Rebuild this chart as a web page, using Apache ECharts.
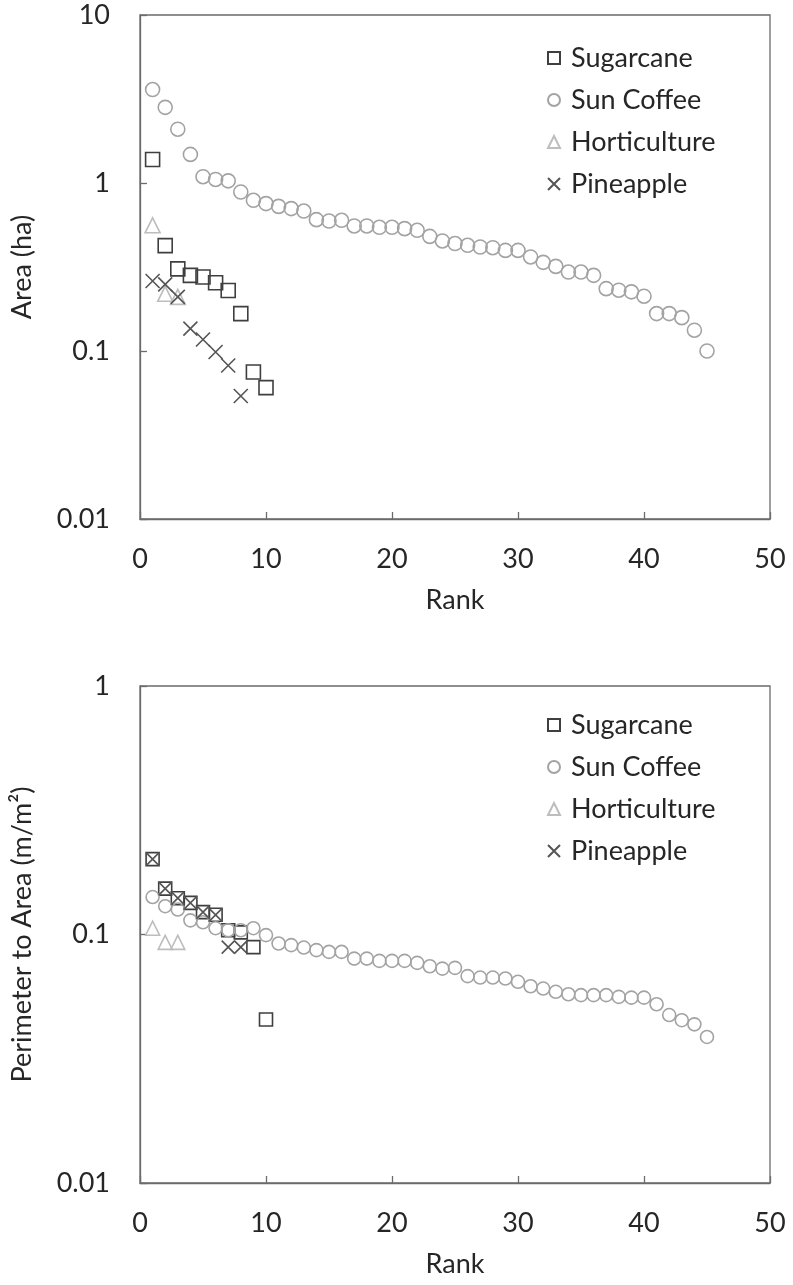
<!DOCTYPE html>
<html>
<head>
<meta charset="utf-8">
<script src="https://cdn.jsdelivr.net/npm/echarts@6/dist/echarts.min.js"></script>
<style>
  html, body { margin: 0; padding: 0; background: #ffffff; }
  #chart { width: 793px; height: 1285px; }
</style>
</head>
<body>
<div id="chart"></div>
<script>
// ---- Data ----
const seriesNames = ['Sugarcane', 'Sun Coffee', 'Horticulture', 'Pineapple'];
const xTickValues = [0, 10, 20, 30, 40, 50];

// Top panel: Area (ha) by rank
const areaSugarcane = [1.38, 0.424, 0.308, 0.282, 0.276, 0.255, 0.229, 0.167, 0.075, 0.0605];
const areaSunCoffee = [3.60, 2.82, 2.09, 1.48, 1.09, 1.05, 1.03, 0.884, 0.789, 0.754,
  0.726, 0.704, 0.681, 0.605, 0.594, 0.60, 0.555, 0.555, 0.545, 0.545,
  0.535, 0.523, 0.481, 0.452, 0.436, 0.426, 0.416, 0.412, 0.397, 0.397,
  0.363, 0.337, 0.319, 0.295, 0.295, 0.282, 0.235, 0.230, 0.225, 0.212,
  0.167, 0.167, 0.158, 0.133, 0.100];
const areaHorticulture = [0.56, 0.219, 0.21];
const areaPineapple = [0.261, 0.249, 0.21, 0.136, 0.117, 0.0986, 0.082, 0.054];

// Bottom panel: Perimeter to Area (m/m2) by rank
const paSugarcane = [0.201, 0.153, 0.140, 0.134, 0.123, 0.120, 0.104, 0.102, 0.089, 0.0455];
const paSunCoffee = [0.1415, 0.130, 0.126, 0.114, 0.112, 0.106, 0.104, 0.104, 0.106, 0.0994,
  0.092, 0.0906, 0.0886, 0.0865, 0.0851, 0.0851, 0.080, 0.080, 0.0783, 0.0783,
  0.0783, 0.0769, 0.0745, 0.0729, 0.0734, 0.068, 0.0671, 0.0671, 0.0665, 0.0645,
  0.0619, 0.0606, 0.0588, 0.0575, 0.057, 0.057, 0.057, 0.0561, 0.0557, 0.0557,
  0.0524, 0.0474, 0.0452, 0.0435, 0.0387];
const paHorticulture = [0.106, 0.093, 0.093];
const paPineapple = [0.201, 0.153, 0.140, 0.134, 0.123, 0.120, 0.089, 0.089];

// ---- Styling ----
const FONT = 'Lato';
const TEXT = '#262626';
const AXIS = '#6b6b6b';
const styles = {
  'Sugarcane':    { symbol: 'rect', color: '#3f3f3f' },
  'Sun Coffee':   { symbol: 'circle', color: '#a3a3a3' },
  'Horticulture': { symbol: 'triangle', color: '#bdbdbd' },
  'Pineapple':    { symbol: 'path://M0,0L10,10M10,0L0,10', color: '#555555' }
};

function toPoints(arr) { return arr.map((v, i) => [i + 1, v]); }

function makeSeries(name, arr, gridIdx, size) {
  const s = styles[name];
  return {
    name: name,
    type: 'scatter',
    xAxisIndex: gridIdx,
    yAxisIndex: gridIdx,
    symbol: s.symbol,
    symbolSize: size,
    data: toPoints(arr),
    itemStyle: { color: 'rgba(0,0,0,0)', borderColor: s.color, borderWidth: 1.6, opacity: 1 },
    emphasis: { disabled: true },
    silent: true,
    z: 3
  };
}

function xAxis(gridIdx) {
  return {
    type: 'value', gridIndex: gridIdx, min: 0, max: 50, interval: 10,
    name: 'Rank', nameLocation: 'middle', nameGap: 68,
    nameTextStyle: { fontFamily: FONT, fontSize: 27, color: TEXT },
    axisLine: { show: true, lineStyle: { color: AXIS, width: 1.3 } },
    axisTick: { show: true, inside: true, length: 7, lineStyle: { color: AXIS, width: 1.3 } },
    axisLabel: { fontFamily: FONT, fontSize: 27, color: TEXT, margin: 27 },
    splitLine: { show: false }
  };
}

function yAxis(gridIdx, max, name) {
  return {
    type: 'log', logBase: 10, gridIndex: gridIdx, min: 0.01, max: max,
    name: name, nameLocation: 'middle', nameGap: 104,
    nameTextStyle: { fontFamily: FONT, fontSize: 27, color: TEXT },
    axisLine: { show: true, lineStyle: { color: AXIS, width: 1.3 } },
    axisTick: { show: true, inside: true, length: 7, lineStyle: { color: AXIS, width: 1.3 } },
    axisLabel: { fontFamily: FONT, fontSize: 27, color: TEXT, margin: 30,
      formatter: function (v) { return String(+v.toPrecision(6)); } },
    minorTick: { show: false },
    splitLine: { show: false }
  };
}

function legend(top) {
  return {
    data: seriesNames,
    orient: 'vertical',
    left: 542, top: top,
    itemWidth: 12, itemHeight: 12,
    itemGap: 12,
    textStyle: { fontFamily: FONT, fontSize: 27, color: TEXT, lineHeight: 30, padding: [0, 0, 0, 6] },
    selectedMode: false
  };
}

const option = {
  animation: false,
  backgroundColor: '#ffffff',
  grid: [
    { left: 140, top: 15, width: 630, height: 504, show: true, borderColor: AXIS, borderWidth: 1.3, backgroundColor: 'transparent' },
    { left: 140, top: 686, width: 630, height: 497, show: true, borderColor: AXIS, borderWidth: 1.3, backgroundColor: 'transparent' }
  ],
  legend: [legend(38), legend(705)],
  xAxis: [xAxis(0), xAxis(1)],
  yAxis: [yAxis(0, 10, 'Area (ha)'), yAxis(1, 1, 'Perimeter to Area (m/m\u00B2)')],
  series: [
    makeSeries('Sugarcane', areaSugarcane, 0, 14),
    makeSeries('Sun Coffee', areaSunCoffee, 0, 14),
    makeSeries('Horticulture', areaHorticulture, 0, 15),
    makeSeries('Pineapple', areaPineapple, 0, 14),
    makeSeries('Sugarcane', paSugarcane, 1, 13),
    makeSeries('Sun Coffee', paSunCoffee, 1, 13),
    makeSeries('Horticulture', paHorticulture, 1, 14),
    makeSeries('Pineapple', paPineapple, 1, 13)
  ]
};

const chart = echarts.init(document.getElementById('chart'), null, { renderer: 'canvas' });
chart.setOption(option);
</script>
</body>
</html>
